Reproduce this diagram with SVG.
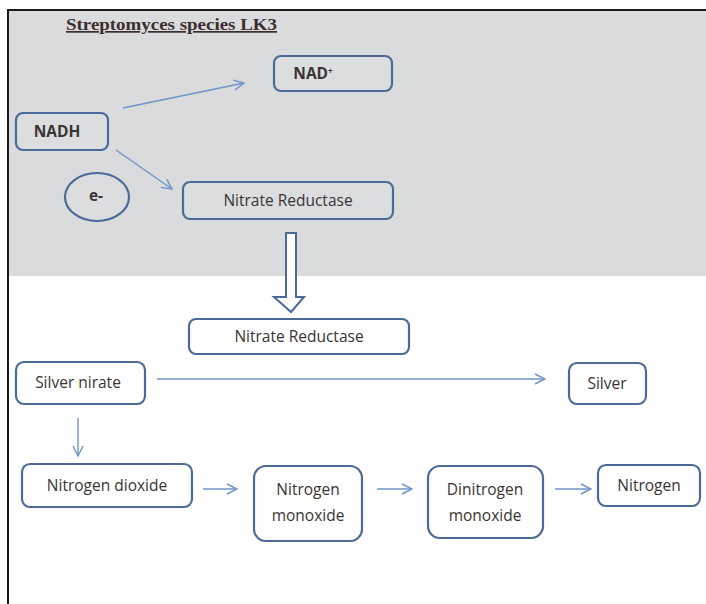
<svg xmlns="http://www.w3.org/2000/svg" width="706" height="604" viewBox="0 0 706 604">
<defs>
<style>
.box{fill:#ffffff;stroke:#4b6a98;stroke-width:2.2}
.gbox{fill:#dcdddf;stroke:#4b6a98;stroke-width:2.2}
.t{font-family:"Open Sans","Liberation Sans",sans-serif;font-size:15.5px;fill:#3a3434;text-anchor:middle}
.b{font-weight:bold}
.arr{stroke:#7094c8;stroke-width:1.4;fill:none;marker-end:url(#ah)}
</style>
<marker id="ah" viewBox="0 0 12 12" refX="11" refY="6" markerWidth="12" markerHeight="12" markerUnits="userSpaceOnUse" orient="auto">
<path d="M1,1 L11,6 L1,11" fill="none" stroke="#7094c8" stroke-width="1.4"/>
</marker>
</defs>
<rect x="0" y="0" width="706" height="604" fill="#ffffff"/>
<rect x="9" y="11" width="697" height="265" fill="#dadbdd"/>
<line x1="8" y1="10" x2="706" y2="10" stroke="#1a1a1a" stroke-width="2"/>
<line x1="8" y1="9" x2="8" y2="604" stroke="#1a1a1a" stroke-width="2"/>
<text x="66" y="30" font-family="Liberation Serif,serif" font-size="17" font-weight="bold" fill="#3a2e2e" textLength="211" lengthAdjust="spacingAndGlyphs" text-decoration="underline">Streptomyces species LK3</text>
<g id="connectors">
<line class="arr" x1="123" y1="108" x2="244" y2="83"/>
<line class="arr" x1="116" y1="150" x2="172" y2="189"/>
<path d="M286,233 H296 V297 H304 L291,312 L274,297 H286 Z" fill="#ffffff" stroke="#4b6a98" stroke-width="2"/>
<line class="arr" x1="157" y1="379" x2="545" y2="379"/>
<line class="arr" x1="78" y1="418" x2="78" y2="456"/>
<line class="arr" x1="203" y1="489" x2="237" y2="489"/>
<line class="arr" x1="377" y1="489" x2="412" y2="489"/>
<line class="arr" x1="555" y1="489" x2="591" y2="489"/>
</g>
<g id="nad"><rect class="gbox" x="274" y="56" width="118" height="35" rx="7"/><text class="t b" x="313" y="79" font-size="14">NAD<tspan font-size="8" dy="-5">+</tspan></text></g>
<g id="nadh"><rect class="gbox" x="16" y="113" width="92" height="37" rx="7"/><text class="t b" x="57" y="137" font-size="14">NADH</text></g>
<g id="electron"><ellipse cx="97" cy="197" rx="32" ry="24" fill="#dcdddf" stroke="#4b6a98" stroke-width="2.2"/><text class="t b" x="96" y="201" font-size="13">e-</text></g>
<g id="nr1"><rect class="gbox" x="183" y="182" width="210" height="37" rx="7"/><text class="t" x="288" y="206">Nitrate Reductase</text></g>
<g id="nr2"><rect class="box" x="189" y="319" width="220" height="35" rx="7"/><text class="t" x="299" y="342">Nitrate Reductase</text></g>
<g id="silvernitrate"><rect class="box" x="16" y="362" width="129" height="42" rx="8"/><text class="t" x="78" y="388">Silver nirate</text></g>
<g id="silver"><rect class="box" x="569" y="363" width="77" height="41" rx="8"/><text class="t" x="607" y="389">Silver</text></g>
<g id="no2"><rect class="box" x="22" y="464" width="170" height="43" rx="8"/><text class="t" x="107" y="491">Nitrogen dioxide</text></g>
<g id="no"><rect class="box" x="254" y="466" width="108" height="75" rx="12"/><text class="t" x="308" y="495">Nitrogen</text><text class="t" x="308" y="521">monoxide</text></g>
<g id="n2o"><rect class="box" x="428" y="466" width="115" height="72" rx="12"/><text class="t" x="485" y="495">Dinitrogen</text><text class="t" x="485" y="521">monoxide</text></g>
<g id="n2"><rect class="box" x="598" y="465" width="102" height="41" rx="8"/><text class="t" x="649" y="491">Nitrogen</text></g>
</svg>
